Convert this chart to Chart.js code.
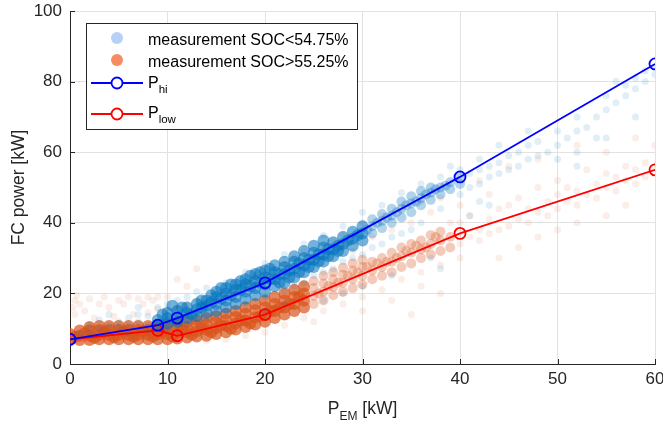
<!DOCTYPE html>
<html>
<head>
<meta charset="utf-8">
<script src="https://cdn.jsdelivr.net/npm/chart.js@4.4.1/dist/chart.umd.min.js"></script>
<style>
  body { margin: 0; background: #fff; }
  canvas { display: block; }
</style>
</head>
<body>
<canvas id="fcChart" width="663" height="427"></canvas>
<script>
// reference lines (breakpoints of P_EM in kW)
const pemBreaks = [0, 9, 11, 20, 40, 60];
const pHi = [7, 11, 13, 23, 53, 85];
const pLow = [7, 9.5, 8, 14, 37, 55];

const xTicks = [0, 10, 20, 30, 40, 50, 60];
const yTicks = [0, 20, 40, 60, 80, 100];

const blueDense = [
  [9,11],[9,12.5],[10,11.5],[10,13],[10,14.5],[11,12],[11,13.5],[11,15],[12,13],[12,14.5],[12,16],
  [13,13.5],[13,15.5],[13,17],[14,14.5],[14,16.5],[14,18],[15,15],[15,17],[15,19],[15,20.5],
  [16,16],[16,18],[16,20],[16,21.5],[17,17],[17,19],[17,21],[17,22.5],[18,18.5],[18,20.5],[18,22.5],[18,24],
  [19,19.5],[19,21.5],[19,23.5],[19,25.5],[20,20.5],[20,22.5],[20,24.5],[20,26.5],[21,22],[21,24],[21,26],[21,28],
  [22,23],[22,25.5],[22,27.5],[22,29],[23,24.5],[23,27],[23,29],[23,30.5],[24,26],[24,28],[24,30],[24,32],
  [25,27.5],[25,29.5],[25,31.5],[25,33.5],[26,29],[26,31],[26,33],[26,35],[27,30.5],[27,32.5],[27,34.5],
  [28,32],[28,34],[28,36],[29,33.5],[29,35.5],[29,37.5],[30,35],[30,37],[30,39],
  [12.5,14],[13.5,16],[14.5,17.5],[15.5,18.5],[16.5,19.5],[17.5,21],[18.5,22],[19.5,23],[20.5,24],[21.5,25.5],[22.5,26.5],[23.5,28.5],
  [24.5,29.5],[25.5,31],[26.5,32.5],[27.5,33.5],[28.5,35],[29.5,36.5],[21.5,23],[22.5,24.5],[23.5,26],[24.5,27.5],
  [25.5,29],[26.5,30.5],[27.5,32],[20.5,27],[19.5,26],[18.5,25],[17.5,23.5],[16.5,22.5],[15.5,21.5],[14.5,19.5],
  [13.5,18],[11.5,16],[10.5,16.5],[9.5,14]
];
const blueMid = [
  [31,37],[31,39],[31,41],[32,38.5],[32,40.5],[32,42.5],[33,40],[33,42],[33,44],[34,41.5],[34,44],[34,46],
  [35,43],[35,45.5],[35,47.5],[36,45],[36,47],[36,49],[37,46.5],[37,48.5],[37,50],[38,48],[38,50],[39,49.5],[39,51.5],[40,51],[40,53],
  [30.5,38],[31.5,40],[32.5,41.5],[33.5,43],[34.5,45],[35.5,46],[36.5,48],[37.5,49.5],[38.5,50.5]
];
const blueSparse = [
  [1,8.5],[2,9],[2,11],[3,10],[3,12.5],[4,11],[4,14],[5,10.5],[5,12],[6,9],[6,11],[6,13],[7,12],[7,14],[7,16],
  [8,9.5],[8,11],[8,13.5],[9,16],[10,10],[10,17],[11,18],[12,11.5],[12,19],[13,20.5],[14,13],[14,21.5],
  [16,15],[16,23],[18,17],[18,26],[20,15],[20,19],[20,28.5],[22,17],[22,21],[22,31],[23,22],[24,23],[24,34],
  [25,25],[26,18],[26,26],[26,36.5],[27,27],[28,20],[28,29],[28,39],[29,30],[30,22],[30,31],[30,43],[31,33],
  [32,34],[32,45],[33,25],[33,36],[34,37],[34,48.5],[35,38],[36,40],[36,51],[37,30],[38,27],[38,44],[38,53],
  [39,56],[40,48],[40,55],[41,42],[41,50],[41,54],[42,46],[42,51],[42,55],[42,58],[43,45],[43,53],[43,56],
  [44,54],[44,57],[44,62],[45,55],[45,59],[46,56],[46,60],[47,58],[47,62],[47,66],[48,59],[48,63],[49,60],
  [50,58],[50,62],[50,66],[51,64],[52,56],[52,60],[52,66],[52,70],[53,67],[54,64],[54,70],[55,64],[55,72],[55,76],
  [56,74],[56,80],[57,76],[57,79],[58,70],[58,78],[58,81],[59,80],[59,83],[60,82],[60,84]
];
const orangeDense = [
  [0,7],[0,8.5],[1,6.8],[1,8],[1,9.5],[2,6.8],[2,8],[2,9.5],[2,10.5],[3,7],[3,8.3],[3,9.6],[3,10.8],
  [4,7],[4,8.3],[4,9.6],[4,10.8],[5,7],[5,8.3],[5,9.6],[5,10.8],[6,7],[6,8.3],[6,9.6],[6,10.8],
  [7,7],[7,8.3],[7,9.6],[7,10.8],[8,7],[8,8.3],[8,9.6],[8,10.8],[9,7],[9,8.4],[9,9.8],[9,11],
  [10,7],[10,8.5],[10,10],[10,11.3],[11,7.2],[11,8.7],[11,10.2],[11,11.7],[12,7.5],[12,9],[12,10.5],[12,12],
  [13,7.8],[13,9.3],[13,11],[13,12.5],[14,8],[14,9.7],[14,11.3],[14,13],[15,8.5],[15,10.2],[15,11.8],[15,13.5],
  [16,9],[16,10.8],[16,12.5],[16,14.2],[17,9.8],[17,11.5],[17,13.3],[17,15],[18,10.5],[18,12.3],[18,14.2],[18,16],
  [19,11.2],[19,13.2],[19,15.2],[19,17],[20,12],[20,14],[20,16],[20,18],[21,13],[21,15],[21,17],[21,19],
  [22,14],[22,16],[22,18],[22,20],[23,15],[23,17],[23,19],[23,21],[24,16],[24,18],[24,20],[24,22],
  [0.5,7.7],[1.5,8.7],[2.5,7.4],[3.5,9],[4.5,7.6],[5.5,9.1],[6.5,7.7],[7.5,9.2],[8.5,7.8],[9.5,9.3],
  [10.5,7.8],[11.5,9.5],[12.5,8.3],[13.5,10.2],[14.5,9],[15.5,11],[16.5,10],[17.5,12.3],[18.5,11.5],[19.5,13.5],
  [20.5,15],[21.5,16],[22.5,17],[23.5,19]
];
const orangeMid = [
  [25,17],[25,19.3],[25,21.5],[25,23.5],[26,18],[26,20.5],[26,22.8],[26,25],[27,19.5],[27,21.8],[27,24],[27,26],
  [28,20.5],[28,23],[28,25.3],[28,27.3],[29,21.5],[29,24],[29,26.5],[29,28.5],[30,22.5],[30,25],[30,27.5],[30,29.5],
  [31,24],[31,26.5],[31,29],[32,25],[32,27.5],[32,30],[33,26],[33,29],[33,31.5],[34,27.5],[34,30.5],[34,33],
  [35,28.5],[35,31.5],[35,34],[36,30],[36,32.5],[36,35],[37,31],[37,34],[37,36.5],[38,32],[38,35],[38,37.5],[39,33],[39,36],
  [25.5,20],[26.5,22],[27.5,23],[28.5,25],[29.5,26],[30.5,27.5],[31.5,28.5],[32.5,29],[33.5,30],[34.5,32],[35.5,33.5],[36.5,33],[37.5,36]
];
const orangeSparse = [
  [0.3,16],[0.5,18],[0.7,19.5],[0.5,14],[1,17],[1.5,15],[2,18.5],[2.5,13],[3,17],[3.5,19],[4,16],[4.5,13.5],
  [5,18],[5.5,17],[6,19],[6.5,14],[7,18.5],[7.5,17],[8,19],[8,14.5],[8.5,18],[9,19],[9,15.5],[10,15],[10,19],
  [11,16],[11,24],[12,17],[12,22],[13,18],[13,27],[14,6.5],[15,17],[16,7],[16,19],[17,21],[18,8],[18,23],
  [19,25],[20,9],[20,24],[21,26],[22,11],[22,28],[23,30],[24,13],[24,32],[25,12],[25,30],[26,15],[26,33],
  [27,35],[28,17],[28,37],[29,32],[30,15],[30,19],[30,40],[31,36],[32,21],[32,42],[33,18],[33,38],[34,24],[34,44],
  [35,14],[35,40],[36,22],[36,26],[36,46],[37,43],[38,20],[38,28],[38,47],[39,40],[40,30],[40,34],[40,37],[40,40],[40,45],
  [41,36],[41,42],[42,35],[42,38],[42,52],[43,37],[43,41],[43,48],[44,30],[44,38],[44,44],[45,39],[45,45],[45,56],
  [46,33],[46,41],[46,47],[47,40],[47,44],[48,36],[48,43],[48,50],[48,58],[49,42],[49,46],[50,38],[50,44],[50,48],[50,52],
  [51,46],[51,50],[52,40],[52,45],[52,49],[52,62],[53,48],[53,55],[54,47],[54,51],[55,42],[55,50],[55,54],[55,60],
  [56,49],[56,53],[57,45],[57,52],[57,56],[58,51],[58,55],[58,64],[59,53],[59,57],[60,56],[60,62]
];

const BLUE = 'rgba(0,114,189,';
const ORANGE = 'rgba(217,83,25,';
const INK = '#262626';
const FONT = '"Liberation Sans", Arial, sans-serif';

function pts(arr) { return arr.map(p => ({ x: p[0], y: p[1] })); }
function cloud(arr, rgb, alpha, r) {
  return { data: pts(arr), backgroundColor: rgb + alpha + ')', borderWidth: 0, pointRadius: r, order: 2, showLine: false };
}

function subText(ctx, x, y, main, sub, rest, size, subSize) {
  ctx.fillText(main, x, y);
  x += ctx.measureText(main).width;
  ctx.font = subSize + 'px ' + FONT;
  ctx.fillText(sub, x, y + size * 0.32);
  x += ctx.measureText(sub).width;
  ctx.font = size + 'px ' + FONT;
  if (rest) ctx.fillText(rest, x, y);
}

const decor = {
  id: 'decor',
  afterDraw(chart) {
    const ctx = chart.ctx, a = chart.chartArea;
    const xs = chart.scales.x, ys = chart.scales.y;
    ctx.save();
    // inward ticks
    ctx.strokeStyle = INK; ctx.lineWidth = 1;
    ctx.beginPath();
    xTicks.forEach(t => { const px = Math.round(xs.getPixelForValue(t)) + 0.5; ctx.moveTo(px, a.bottom); ctx.lineTo(px, a.bottom - 5); });
    yTicks.forEach(t => { const py = Math.round(ys.getPixelForValue(t)) + 0.5; ctx.moveTo(a.left, py); ctx.lineTo(a.left + 5, py); });
    ctx.stroke();

    // axis titles
    ctx.fillStyle = INK;
    ctx.textBaseline = 'alphabetic';
    ctx.font = '17.5px ' + FONT;
    ctx.save();
    ctx.translate(24, (a.top + a.bottom) / 2);
    ctx.rotate(-Math.PI / 2);
    ctx.textAlign = 'center';
    ctx.fillText('FC power [kW]', 0, 0);
    ctx.restore();

    ctx.textAlign = 'left';
    ctx.font = '17.5px ' + FONT;
    const w = ctx.measureText('P').width + ctx.measureText(' [kW]').width;
    ctx.font = '12px ' + FONT;
    const wSub = ctx.measureText('EM').width;
    ctx.font = '17.5px ' + FONT;
    subText(ctx, (a.left + a.right) / 2 - (w + wSub) / 2, 414, 'P', 'EM', ' [kW]', 17.5, 12);

    // legend
    const bx = 86, by = 23, bw = 271, bh = 106;
    ctx.fillStyle = '#fff';
    ctx.fillRect(bx, by, bw, bh);
    ctx.strokeStyle = INK;
    ctx.strokeRect(bx + 0.5, by + 0.5, bw, bh);
    ctx.fillStyle = 'rgb(184,208,246)';
    ctx.beginPath(); ctx.arc(117, 38, 6, 0, Math.PI * 2); ctx.fill();
    ctx.fillStyle = 'rgb(247,139,98)';
    ctx.beginPath(); ctx.arc(117, 60, 6, 0, Math.PI * 2); ctx.fill();
    [['#0000ff', 83], ['#ff0000', 114]].forEach(([c, y]) => {
      ctx.strokeStyle = c; ctx.lineWidth = 1.8;
      ctx.beginPath(); ctx.moveTo(91, y); ctx.lineTo(143, y); ctx.stroke();
      ctx.fillStyle = '#fff';
      ctx.beginPath(); ctx.arc(117, y, 5.5, 0, Math.PI * 2); ctx.fill(); ctx.stroke();
    });
    ctx.fillStyle = '#000';
    ctx.font = '16px ' + FONT;
    ctx.fillText('measurement SOC<54.75%', 148, 45);
    ctx.fillText('measurement SOC>55.25%', 148, 67);
    subText(ctx, 148, 88, 'P', 'hi', '', 16, 11.5);
    subText(ctx, 148, 118, 'P', 'low', '', 16, 11.5);
    ctx.restore();
  }
};

function lineSet(vals, color) {
  return {
    data: pemBreaks.map((x, i) => ({ x: x, y: vals[i] })),
    showLine: true, borderColor: color, borderWidth: 1.8,
    pointRadius: 5.5, pointBorderWidth: 1.8, pointBorderColor: color,
    pointBackgroundColor: 'rgba(0,0,0,0)', order: 0
  };
}

const tickFont = { family: FONT, size: 17 };

new Chart(document.getElementById('fcChart'), {
  type: 'scatter',
  data: {
    datasets: [
      lineSet(pHi, '#0000ff'),
      lineSet(pLow, '#ff0000'),
      cloud(blueDense, BLUE, 0.55, 6),
      cloud(blueMid, BLUE, 0.3, 5),
      cloud(blueSparse, BLUE, 0.12, 3.5),
      cloud(orangeDense, ORANGE, 0.7, 6),
      cloud(orangeMid, ORANGE, 0.3, 5),
      cloud(orangeSparse, ORANGE, 0.1, 3.5)
    ]
  },
  options: {
    responsive: false,
    animation: false,
    devicePixelRatio: 1,
    layout: { padding: { top: 11, right: 8, left: 0, bottom: 0 } },
    plugins: { legend: { display: false }, tooltip: { enabled: false } },
    scales: {
      x: {
        type: 'linear', min: 0, max: 60,
        afterBuildTicks: s => { s.ticks = xTicks.map(v => ({ value: v })); },
        ticks: { color: INK, font: tickFont, padding: 5, maxRotation: 0 },
        grid: { color: '#e2e2e2', drawTicks: false },
        border: { color: INK, width: 1 },
        afterFit: s => { s.height = 63; s.paddingLeft = 0; s.paddingRight = 0; }
      },
      y: {
        type: 'linear', min: 0, max: 100,
        afterBuildTicks: s => { s.ticks = yTicks.map(v => ({ value: v })); },
        ticks: { color: INK, font: tickFont, padding: 8 },
        grid: { color: '#e2e2e2', drawTicks: false },
        border: { color: INK, width: 1 },
        afterFit: s => { s.width = 70; s.paddingTop = 0; s.paddingBottom = 0; }
      }
    }
  },
  plugins: [decor]
});
</script>
</body>
</html>
